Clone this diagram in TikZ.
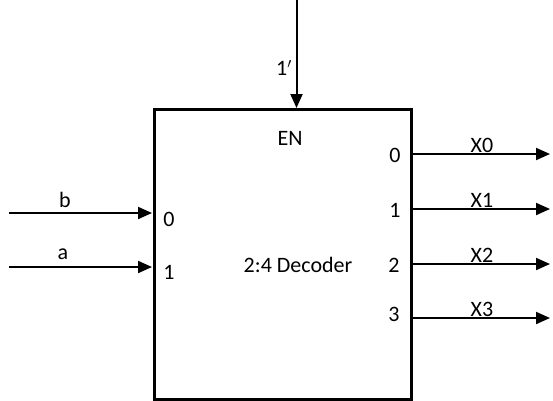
\documentclass[tikz,border=0pt]{standalone}
\usepackage{fontspec}
\setmainfont{Carlito}
\usetikzlibrary{arrows.meta}
\begin{document}
\begin{tikzpicture}[x=1pt,y=-1pt,
  wire/.style={line width=2pt,-{Triangle[length=14pt,width=12pt]}},
  lbl/.style={font=\fontsize{22}{26}\selectfont,inner sep=0pt}]
\useasboundingbox (0,0) rectangle (553,400);
\node[draw,line width=2.6pt,minimum width=257pt,minimum height=290pt,anchor=north west,inner sep=0pt] (dec) at (153,108) {};
\coordinate (top) at (296.5,0);
\coordinate (enin) at (296.5,108);
\draw[wire] (top) -- (enin);
\node[lbl] (one) at (284,68) {1$'$};
\coordinate (bs) at (9,213);
\coordinate (be) at (152,213);
\coordinate (as) at (9,267);
\coordinate (ae) at (152,267);
\draw[wire] (bs) -- (be);
\draw[wire] (as) -- (ae);
\node[lbl] (lb) at (65,200) {b};
\node[lbl] (la) at (63,254) {a};
\node[lbl] (p0) at (169,219) {0};
\node[lbl] (p1) at (169,272) {1};
\node[lbl] (en) at (290,138) {EN};
\node[lbl] (name) at (298,265) {2:4 Decoder};
\foreach \i/\y in {0/154,1/209,2/264,3/318}{
  \coordinate (o\i s) at (411,\y);
  \coordinate (o\i e) at (550,\y);
  \draw[wire] (o\i s) -- (o\i e);
  \node[lbl] (x\i) at (482,\y-9) {X\i};
}
\node[lbl] (q0) at (395,155) {0};
\node[lbl] (q1) at (395,210) {1};
\node[lbl] (q2) at (394,265) {2};
\node[lbl] (q3) at (394,314) {3};
\end{tikzpicture}
\end{document}
